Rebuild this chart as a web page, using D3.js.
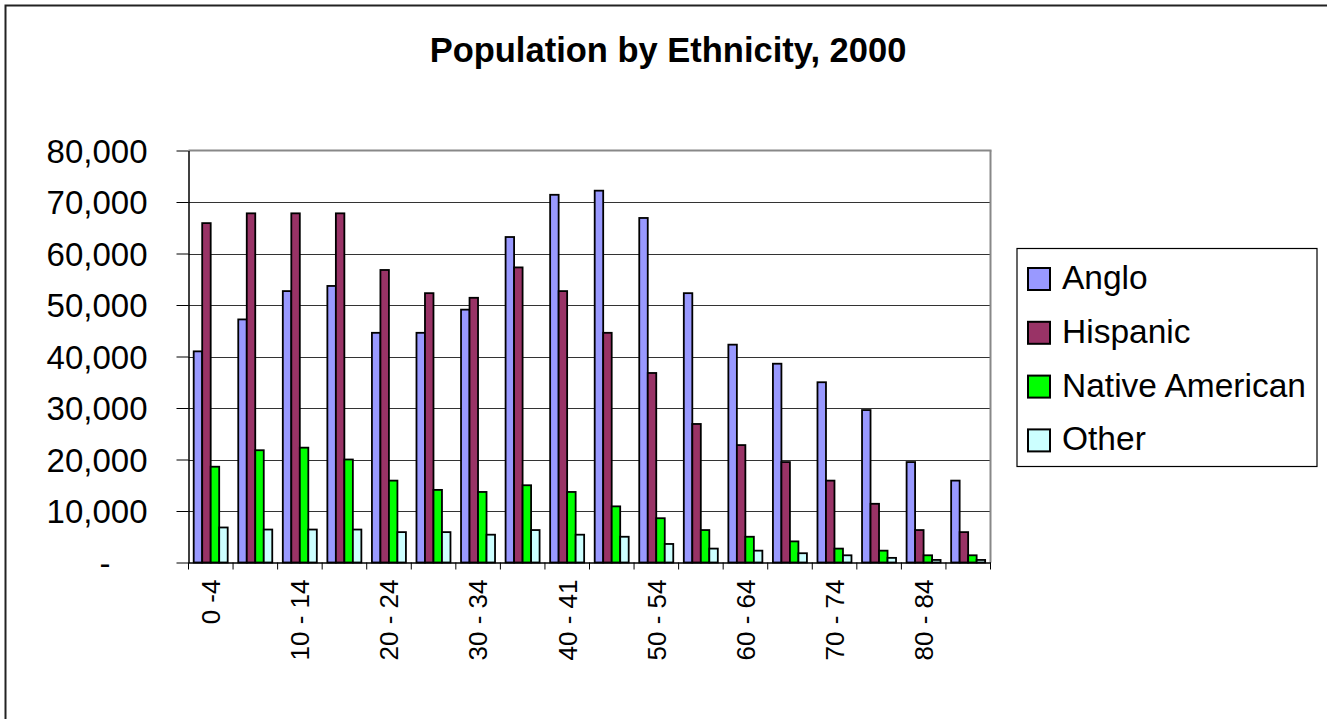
<!DOCTYPE html>
<html>
<head>
<meta charset="utf-8">
<script src="https://cdn.jsdelivr.net/npm/d3@7"></script>
<style>
  html, body { margin: 0; padding: 0; background: #fff; }
  svg { display: block; font-family: "Liberation Sans", Arial, sans-serif; }
</style>
</head>
<body>
<svg id="chart" width="1327" height="719"></svg>
<script>
const title = "Population by Ethnicity, 2000";
const categories = ["0 -4", "5 - 9", "10 - 14", "15 - 19", "20 - 24", "25 - 29", "30 - 34", "35 - 39", "40 - 41",
  "45 - 49", "50 - 54", "55 - 59", "60 - 64", "65 - 69", "70 - 74", "75 - 79", "80 - 84", "85+"];
const seriesNames = ["Anglo", "Hispanic", "Native American", "Other"];
const seriesColors = ["#9999FF", "#993366", "#00FF00", "#CCFFFF"];
const anglo =    [41000, 47200, 52700, 53700, 44600, 44600, 49100, 63200, 71400, 72200, 66900, 52300, 42300, 38600, 35000, 29600, 19500, 15900];
const hispanic = [65900, 67800, 67800, 67800, 56800, 52300, 51400, 57300, 52700, 44600, 36800, 26900, 22800, 19500, 15900, 11400, 6300, 5900];
const nativeAm = [18600, 21800, 22300, 20000, 15900, 14100, 13700, 15000, 13700, 10900, 8600, 6300, 5000, 4100, 2700, 2300, 1400, 1400];
const other =    [6800, 6400, 6400, 6400, 5900, 5900, 5400, 6300, 5400, 5000, 3600, 2700, 2300, 1800, 1400, 900, 500, 500];
const yTicks = [0, 10000, 20000, 30000, 40000, 50000, 60000, 70000, 80000];

const seriesValues = [anglo, hispanic, nativeAm, other];
const svg = d3.select("#chart");

// outer chart border
svg.append("rect").attr("x", 5.5).attr("y", 5.5).attr("width", 1340).attr("height", 740)
  .attr("fill", "#fff").attr("stroke", "#222").attr("stroke-width", 2);

const plot = { left: 188.5, right: 990.5, top: 150.5, bottom: 562.5 };

const x0 = d3.scaleBand().domain(categories).range([plot.left, plot.right]).padding(0);
const x1 = d3.scaleBand().domain(seriesNames).range([5.2, 39.2]).padding(0);
const y = d3.scaleLinear().domain([0, 80000]).range([plot.bottom, plot.top]);

// title
svg.append("text").attr("x", 668).attr("y", 62).attr("text-anchor", "middle")
  .attr("font-size", 34.5).attr("font-weight", "bold").attr("fill", "#000").text(title);

// gridlines
svg.append("g").selectAll("line").data(yTicks.filter(d => d > 0 && d < 80000)).join("line")
  .attr("x1", plot.left).attr("x2", plot.right)
  .attr("y1", d => Math.round(y(d)) + 0.5).attr("y2", d => Math.round(y(d)) + 0.5)
  .attr("stroke", "#333").attr("stroke-width", 1);

// plot area border (top & right, gray)
svg.append("line").attr("x1", plot.left).attr("x2", plot.right + 1).attr("y1", plot.top).attr("y2", plot.top)
  .attr("stroke", "#888").attr("stroke-width", 2);
svg.append("line").attr("x1", plot.right).attr("x2", plot.right).attr("y1", plot.top).attr("y2", plot.bottom)
  .attr("stroke", "#888").attr("stroke-width", 2);

// bars
const groups = svg.append("g").selectAll("g").data(categories).join("g")
  .attr("transform", d => `translate(${x0(d)},0)`);
groups.selectAll("rect").data((c, i) => seriesNames.map((s, k) => ({ s, k, v: seriesValues[k][i] })))
  .join("rect")
  .attr("x", d => x1(d.s))
  .attr("width", x1.bandwidth())
  .attr("y", d => y(d.v))
  .attr("height", d => y(0) - y(d.v))
  .attr("fill", d => seriesColors[d.k])
  .attr("stroke", "#000").attr("stroke-width", 1.8);

// y axis
const yAxis = d3.axisLeft(y).tickValues(yTicks).tickSizeInner(12).tickSizeOuter(0).tickPadding(29)
  .tickFormat(d => d === 0 ? "-" : d3.format(",")(d));
const gy = svg.append("g").attr("transform", `translate(${plot.left},0)`).call(yAxis);
gy.select(".domain").attr("stroke", "#000").attr("stroke-width", 1.5);
gy.selectAll(".tick line").attr("stroke", "#000");
gy.selectAll(".tick text").attr("font-size", 33).attr("fill", "#000")
  .attr("font-family", "'Liberation Sans', Arial, sans-serif")
  .attr("dy", "0.36em");
gy.selectAll(".tick").filter(d => d === 0).select("text").attr("dx", -37);

// x axis
const xAxis = d3.axisBottom(x0).tickSize(0).tickFormat((d, i) => i % 2 === 0 ? d : "");
const gx = svg.append("g").attr("transform", `translate(0,${plot.bottom})`).call(xAxis);
gx.select(".domain").attr("stroke", "#000").attr("stroke-width", 1.5);
gx.selectAll(".tick text")
  .attr("font-size", 26).attr("fill", "#000")
  .attr("font-family", "'Liberation Sans', Arial, sans-serif")
  .attr("text-anchor", "end")
  .attr("transform", "rotate(-90)")
  .attr("x", -17).attr("y", 0).attr("dy", "0.36em");
// category boundary ticks
gx.append("g").selectAll("line").data(categories.concat(["__end"])).join("line")
  .attr("x1", (d, i) => i < categories.length ? x0(d) : plot.right)
  .attr("x2", (d, i) => i < categories.length ? x0(d) : plot.right)
  .attr("y1", 0).attr("y2", 7).attr("stroke", "#000").attr("stroke-width", 1);

// legend
const lg = svg.append("g");
lg.append("rect").attr("x", 1017).attr("y", 248.5).attr("width", 300).attr("height", 218)
  .attr("fill", "#fff").attr("stroke", "#000").attr("stroke-width", 1.2);
const items = lg.selectAll("g.item").data(seriesNames).join("g").attr("class", "item")
  .attr("transform", (d, i) => `translate(1028,${268 + i * 53.8})`);
items.append("rect").attr("width", 22).attr("height", 22)
  .attr("fill", (d, i) => seriesColors[i]).attr("stroke", "#000").attr("stroke-width", 2);
items.append("text").attr("x", 34).attr("y", 21).attr("font-size", 33.5).attr("fill", "#000").text(d => d);
</script>
</body>
</html>
